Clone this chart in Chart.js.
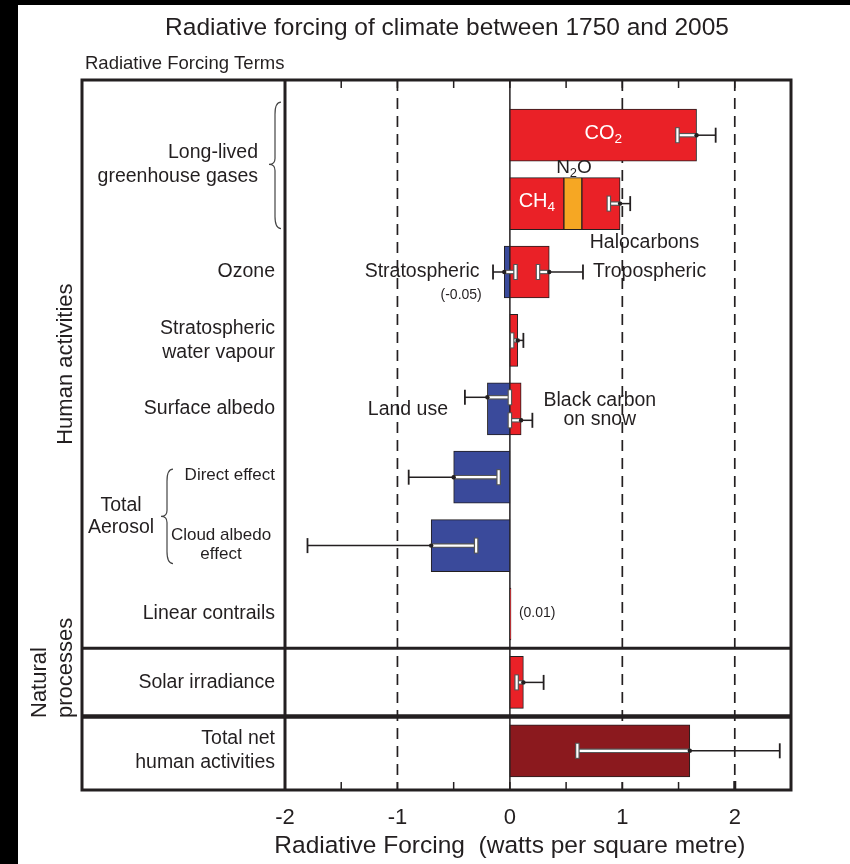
<!DOCTYPE html>
<html>
<head>
<meta charset="utf-8">
<title>Radiative forcing of climate between 1750 and 2005</title>
<script src="https://cdn.jsdelivr.net/npm/chart.js@4.4.1/dist/chart.umd.min.js"></script>
<style>
  html, body { margin: 0; padding: 0; background: #000; }
  #wrap { position: absolute; left: 0; top: 0; width: 850px; height: 864px; }
</style>
</head>
<body>
<div id="wrap"><canvas id="rf" width="850" height="864"></canvas></div>
<script>
// Forcing terms, one row each (top to bottom)
const terms = ['CO2', 'CH4 / N2O / Halocarbons', 'Ozone', 'Stratospheric water vapour',
  'Surface albedo', 'Aerosol direct effect', 'Cloud albedo effect', 'Linear contrails',
  'Solar irradiance', 'Total net human activities'];

// Best estimates, W m-2
const warming      = [1.66, 0.48, 0.35, 0.07, 0.10, null, null, 0.01, 0.12, null];
const nitrousOxide = [null, 0.16, null, null, null, null, null, null, null, null];
const halocarbons  = [null, 0.34, null, null, null, null, null, null, null, null];
const cooling      = [null, null, -0.05, null, -0.20, -0.50, -0.70, null, null, null];
const totalNet     = [null, null, null, null, null, null, null, null, null, 1.60];

// Uncertainty ranges (row index, low, best, high, sub-lane inside the row)
const errRow  = [0, 1, 2, 2, 3, 4, 4, 5, 6, 8, 9];
const errLow  = [1.49, 0.88, -0.15, 0.25, 0.02, -0.40, 0.00, -0.90, -1.80, 0.06, 0.60];
const errBest = [1.66, 0.98, -0.05, 0.35, 0.07, -0.20, 0.10, -0.50, -0.70, 0.12, 1.60];
const errHigh = [1.83, 1.07, 0.05, 0.65, 0.12, 0.00, 0.20, -0.10, -0.30, 0.30, 2.40];
const errLane = [0, 0, 0, 0, 0, -1, 1, 0, 0, 0, 0];

// Axis
const xTicks = [-2, -1, 0, 1, 2];
const dashedAt = [-1, 1, 2];
const xTitle = 'Radiative Forcing  (watts per square metre)';

const FONT = "'Liberation Sans', Arial, Helvetica, sans-serif";
const INK = '#231f20';
const RED = '#ea2127', BLUE = '#3a4a9b', ORANGE = '#f6a723', DARKRED = '#8b191e';

function rowExtent(chart, i) {
  let lo = 0, hi = 0;
  chart.data.datasets.forEach(ds => {
    const v = ds.data[i];
    if (v == null) return;
    if (v < 0) lo += v; else hi += v;
  });
  return [lo, hi];
}

function line(ctx, x1, y1, x2, y2) {
  ctx.beginPath(); ctx.moveTo(x1, y1); ctx.lineTo(x2, y2); ctx.stroke();
}

// text made of parts; a part flagged true is set as a subscript
function rich(ctx, parts, x, y, align, size, color) {
  const sub = size * 0.68;
  let w = 0;
  parts.forEach(([t, s]) => { ctx.font = (s ? sub : size) + 'px ' + FONT; w += ctx.measureText(t).width; });
  let cx = align === 'center' ? x - w / 2 : align === 'right' ? x - w : x;
  ctx.fillStyle = color; ctx.textAlign = 'left'; ctx.textBaseline = 'middle';
  parts.forEach(([t, s]) => {
    ctx.font = (s ? sub : size) + 'px ' + FONT;
    ctx.fillText(t, cx, s ? y + size * 0.3 : y);
    cx += ctx.measureText(t).width;
  });
}

function text(ctx, t, x, y, align, size, color) {
  ctx.font = size + 'px ' + FONT;
  ctx.fillStyle = color || INK; ctx.textAlign = align; ctx.textBaseline = 'middle';
  ctx.fillText(t, x, y);
}

function brace(ctx, xr, y1, y2, ym, w) {
  const xm = xr - w / 2, xl = xr - w;
  ctx.beginPath();
  ctx.moveTo(xr, y1);
  ctx.quadraticCurveTo(xm, y1, xm, y1 + w);
  ctx.lineTo(xm, ym - w / 2);
  ctx.quadraticCurveTo(xm, ym, xl, ym);
  ctx.quadraticCurveTo(xm, ym, xm, ym + w / 2);
  ctx.lineTo(xm, y2 - w);
  ctx.quadraticCurveTo(xm, y2, xr, y2);
  ctx.stroke();
}

function frameBox(chart) {
  const a = chart.chartArea;
  return { top: a.top - 21, bottom: a.bottom + 5, left: 82, right: a.right };
}

const figurePlugin = {
  id: 'figure',
  beforeDraw(chart) {
    const { ctx, width, height } = chart;
    ctx.save();
    ctx.fillStyle = '#fff'; ctx.fillRect(0, 0, width, height);
    ctx.fillStyle = '#000'; ctx.fillRect(0, 0, 18, height); ctx.fillRect(0, 0, width, 5);
    ctx.restore();
  },
  beforeDatasetsDraw(chart) {
    const { ctx, scales: { x } } = chart;
    const f = frameBox(chart);
    const P = v => x.getPixelForValue(v);
    ctx.save();
    ctx.strokeStyle = INK;
    ctx.lineWidth = 1.7; ctx.setLineDash([11, 7]);
    dashedAt.forEach(v => line(ctx, P(v), f.top, P(v), f.bottom));
    ctx.setLineDash([]);
    ctx.lineWidth = 1.5;
    line(ctx, P(0), f.top, P(0), f.bottom);
    // half-unit tick marks along top and bottom
    for (let k = -3; k <= 4; k++) {
      const px = P(k * 0.5);
      line(ctx, px, f.top, px, f.top + 8);
      line(ctx, px, f.bottom, px, f.bottom - 8);
    }
    ctx.restore();
  },
  afterDatasetsDraw(chart) {
    const { ctx, scales: { x, y } } = chart;
    const P = v => x.getPixelForValue(v);
    ctx.save();
    errRow.forEach((r, i) => {
      const yc = y.getPixelForValue(r) + errLane[i] * 11.5;
      const [lo, hi] = rowExtent(chart, r);
      const a = errLow[i], b = errHigh[i];
      const wA = Math.max(a, lo), wB = Math.min(b, hi);
      ctx.strokeStyle = INK; ctx.lineWidth = 1.5;
      if (a < wA) line(ctx, P(a), yc, P(Math.min(wA, b)), yc);
      if (b > wB) line(ctx, P(Math.max(wB, a)), yc, P(b), yc);
      if (wB > wA) {
        ctx.strokeStyle = '#555'; ctx.lineWidth = 4.5;
        line(ctx, P(wA), yc, P(wB), yc);
        ctx.strokeStyle = '#fff'; ctx.lineWidth = 2.2;
        line(ctx, P(wA), yc, P(wB), yc);
      }
      [a, b].forEach(v => {
        const inside = v >= lo - 1e-9 && v <= hi + 1e-9;
        const px = P(v);
        if (inside) {
          ctx.fillStyle = '#555'; ctx.fillRect(px - 2.3, yc - 8, 4.6, 16);
          ctx.fillStyle = '#fff'; ctx.fillRect(px - 1.1, yc - 7, 2.2, 14);
        } else {
          ctx.strokeStyle = INK; ctx.lineWidth = 1.8;
          line(ctx, px, yc - 7.5, px, yc + 7.5);
        }
      });
      ctx.fillStyle = INK;
      ctx.beginPath(); ctx.arc(P(errBest[i]), yc, 2.2, 0, Math.PI * 2); ctx.fill();
    });
    ctx.restore();
  },
  afterDraw(chart) {
    const { ctx, scales: { x, y } } = chart;
    const f = frameBox(chart);
    const P = v => x.getPixelForValue(v);
    const Y = i => y.getPixelForValue(i);
    ctx.save();
    ctx.strokeStyle = INK;
    // frame, label column and group separators
    ctx.lineWidth = 3;
    ctx.strokeRect(f.left, f.top, f.right - f.left, f.bottom - f.top);
    line(ctx, P(-2), f.top, P(-2), f.bottom);
    const sep1 = (Y(7) + Y(8)) / 2, sep2 = (Y(8) + Y(9)) / 2;
    line(ctx, f.left, sep1, f.right, sep1);
    ctx.lineWidth = 4.5;
    line(ctx, f.left, sep2, f.right, sep2);
    ctx.lineWidth = 3;
    line(ctx, P(2), f.bottom, P(2), f.bottom - 9);

    // headings
    text(ctx, 'Radiative forcing of climate between 1750 and 2005', 447, 28, 'center', 24.5);
    text(ctx, 'Radiative Forcing Terms', 85, 64, 'left', 18.5);
    text(ctx, xTitle, P(0), 846, 'center', 24.5);

    // row labels
    const L = P(-2) - 10, S = 19.5;
    const ghg = (Y(0) + Y(1)) / 2 - 5;
    text(ctx, 'Long-lived', 258, ghg - 12, 'right', S);
    text(ctx, 'greenhouse gases', 258, ghg + 12, 'right', S);
    ctx.strokeStyle = '#444'; ctx.lineWidth = 1.2;
    brace(ctx, 281, Y(0) - 33, Y(1) + 25, ghg, 12);
    text(ctx, 'Ozone', L, Y(2), 'right', S);
    text(ctx, 'Stratospheric', L, Y(3) - 12, 'right', S);
    text(ctx, 'water vapour', L, Y(3) + 12, 'right', S);
    text(ctx, 'Surface albedo', L, Y(4), 'right', S);
    text(ctx, 'Direct effect', L, Y(5) - 2, 'right', 17);
    text(ctx, 'Cloud albedo', 221, Y(6) - 10, 'center', 17);
    text(ctx, 'effect', 221, Y(6) + 9, 'center', 17);
    const aer = (Y(5) + Y(6)) / 2 + 5;
    text(ctx, 'Total', 121, aer - 11, 'center', S);
    text(ctx, 'Aerosol', 121, aer + 11, 'center', S);
    brace(ctx, 173, Y(5) - 8, Y(6) + 18, aer, 12);
    text(ctx, 'Linear contrails', L, Y(7), 'right', S);
    text(ctx, 'Solar irradiance', L, Y(8), 'right', S);
    text(ctx, 'Total net', L, Y(9) - 12, 'right', S);
    text(ctx, 'human activities', L, Y(9) + 12, 'right', S);

    // group labels, set vertically
    ctx.save();
    ctx.translate(66, (f.top + sep1) / 2); ctx.rotate(-Math.PI / 2);
    text(ctx, 'Human activities', 0, 0, 'center', 22);
    ctx.restore();
    ctx.save();
    ctx.translate(40, 718); ctx.rotate(-Math.PI / 2);
    text(ctx, 'Natural', 0, 0, 'left', 22);
    ctx.restore();
    ctx.save();
    ctx.translate(66, 718); ctx.rotate(-Math.PI / 2);
    text(ctx, 'processes', 0, 0, 'left', 22);
    ctx.restore();

    // annotations on the bars
    rich(ctx, [['CO', false], ['2', true]], P(0.83), Y(0) - 2, 'center', 20, '#fff');
    rich(ctx, [['CH', false], ['4', true]], P(0.24), Y(1) - 2, 'center', 20, '#fff');
    rich(ctx, [['N', false], ['2', true], ['O', false]], P(0.57), Y(1) - 36, 'center', 19, INK);
    text(ctx, 'Halocarbons', P(0.71), Y(1) + 39, 'left', S);
    text(ctx, 'Stratospheric', P(-0.27), Y(2), 'right', S);
    text(ctx, '(-0.05)', P(-0.25), Y(2) + 23, 'right', 14);
    text(ctx, 'Tropospheric', P(0.74), Y(2), 'left', S);
    text(ctx, 'Land use', P(-0.55), Y(4) + 1, 'right', S);
    text(ctx, 'Black carbon', P(0.8), Y(4) - 8, 'center', S);
    text(ctx, 'on snow', P(0.8), Y(4) + 11, 'center', S);
    text(ctx, '(0.01)', P(0.08), Y(7) - 1, 'left', 14);
    ctx.restore();
  }
};

const barStyle = { borderColor: INK, borderWidth: 1, borderSkipped: false, barThickness: 52 };

new Chart(document.getElementById('rf'), {
  type: 'bar',
  data: {
    labels: terms,
    datasets: [
      { label: 'Warming', data: warming, backgroundColor: RED, ...barStyle },
      { label: 'N2O', data: nitrousOxide, backgroundColor: ORANGE, ...barStyle },
      { label: 'Halocarbons', data: halocarbons, backgroundColor: RED, ...barStyle },
      { label: 'Cooling', data: cooling, backgroundColor: BLUE, ...barStyle },
      { label: 'Total net', data: totalNet, backgroundColor: DARKRED, ...barStyle }
    ]
  },
  options: {
    indexAxis: 'y',
    responsive: false,
    animation: false,
    events: [],
    layout: { padding: { left: 285, right: 59, top: 101, bottom: 0 } },
    plugins: { legend: { display: false }, tooltip: { enabled: false } },
    scales: {
      x: {
        type: 'linear', stacked: true, min: -2, max: 2.5,
        grid: { display: false }, border: { display: false },
        afterBuildTicks: s => { s.ticks = xTicks.map(v => ({ value: v })); },
        afterFit: s => { s.height = 79; },
        ticks: { autoSkip: false, maxRotation: 0, padding: 12, color: INK, font: { family: FONT, size: 22 } },
        title: { display: false }
      },
      y: { type: 'category', stacked: true, display: false }
    }
  },
  plugins: [figurePlugin]
});
</script>
</body>
</html>
